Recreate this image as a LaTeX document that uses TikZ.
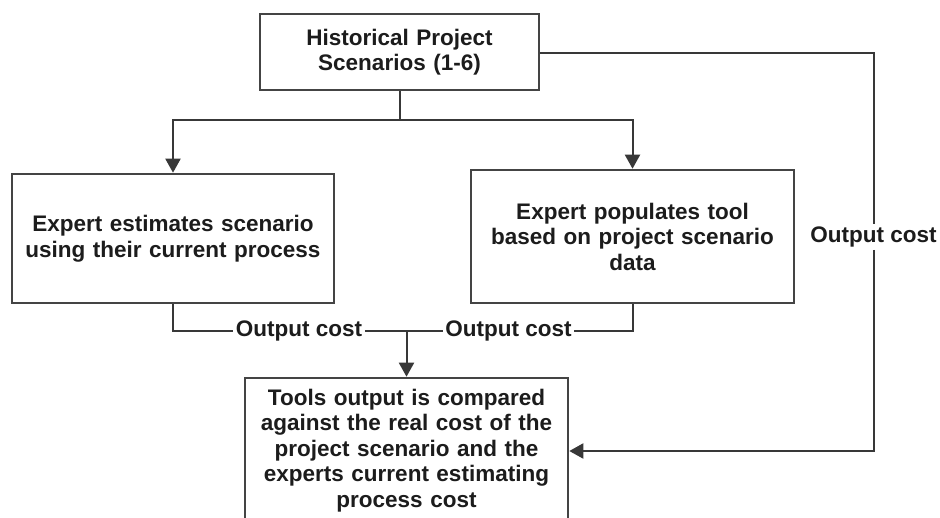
\documentclass[tikz,border=0pt]{standalone}
\usepackage{fontspec}
\setmainfont{Liberation Sans}
\usetikzlibrary{arrows.meta}
\definecolor{linecol}{HTML}{383838}
\definecolor{boxcol}{HTML}{444444}
\definecolor{textcol}{HTML}{1C1C1C}
\begin{document}
\begin{tikzpicture}[x=1pt,y=-1pt,
  every node/.style={font=\fontsize{22.5}{25.5}\selectfont\bfseries, text=textcol},
  procbox/.style={draw=boxcol, line width=2.6pt, fill=white, align=center, inner sep=0pt},
  costlabel/.style={inner sep=2.5pt},
  link/.style={draw=linecol, line width=2pt},
  arr/.style={link, -{Triangle[length=14pt,width=15pt]}}]
  \useasboundingbox (0,0) rectangle (940,517);
  \clip (0,0) rectangle (940,517);
  \fill[white] (0,0) rectangle (940,517);

  % process boxes
  \node[procbox, minimum width=279pt, minimum height=76pt, text width=270pt] (hist) at (399.5,52)
    {Historical Project\\Scenarios (1-6)};
  \node[procbox, minimum width=322pt, minimum height=129pt, text width=310pt] (cur) at (173,238.5)
    {Expert estimates scenario\\using their current process};
  \node[procbox, minimum width=323pt, minimum height=133pt, text width=310pt] (tool) at (632.5,236.5)
    {Expert populates tool\\based on project scenario\\data};
  \node[procbox, minimum width=323pt, minimum height=145pt, text width=310pt] (cmp) at (406.5,450.5)
    {Tools output is compared\\against the real cost of the\\project scenario and the\\experts current estimating\\process cost};

  % cost labels
  \node[costlabel] (c1) at (299,331) {Output cost};
  \node[costlabel] (c2) at (508.5,331) {Output cost};
  \node[costlabel] (c3) at (873.5,237) {Output cost};

  % routing points
  \coordinate (split) at (hist.south |- 0,120);
  \coordinate (join) at (406.5,331);
  \coordinate (rtop) at (873.5,53);
  \coordinate (rbot) at (873.5,451);

  % scenarios fan out to both estimating paths
  \draw[arr] (hist.south) -- (split) -| (cur.north);
  \draw[arr] (split) -| (tool.north);

  % both estimates are collected and compared
  \draw[link] (cur.south) |- (c1.west);
  \draw[link] (c1.east) -- (c2.west);
  \draw[link] (tool.south) |- (c2.east);
  \draw[arr] (join) -- (cmp.north);

  % real cost taken directly from the historical scenarios
  \draw[link] (hist.east |- rtop) -- (rtop) -- (c3.north);
  \draw[arr] (c3.south) -- (rbot) -- (cmp.east |- rbot);
\end{tikzpicture}
\end{document}
